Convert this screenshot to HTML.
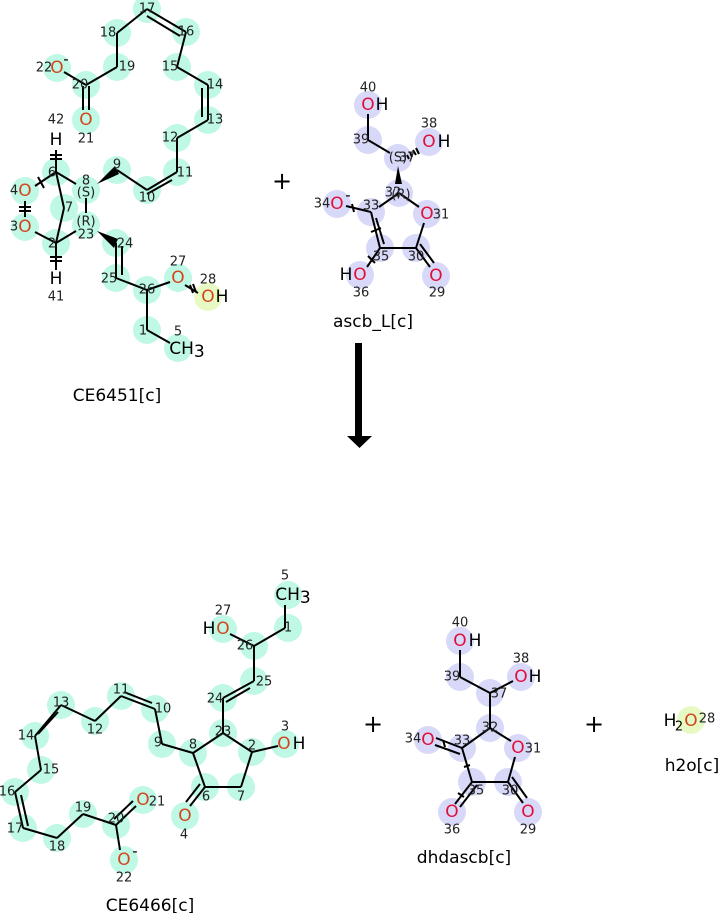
<!DOCTYPE html>
<html><head><meta charset="utf-8"><style>
html,body{margin:0;padding:0;background:#fff;}
svg{display:block;font-family:"DejaVu Sans","Liberation Sans",sans-serif;}
circle{r:14px;}
.n{font-size:13px;fill:#222;text-anchor:middle;dominant-baseline:central;}
.e{font-size:17px;text-anchor:middle;dominant-baseline:central;}
.o1{fill:#d2461e;} .o2{fill:#e0103a;} .k{fill:#000;}
.t{font-size:17px;fill:#000;text-anchor:middle;}
line{stroke:#000;stroke-width:2;}
</style></head><body>
<svg width="719" height="913" viewBox="0 0 719 913">
<g fill="#bff8e4">
<circle cx="147" cy="9" r="13"/><circle cx="186" cy="32" r="13"/><circle cx="117" cy="33" r="13"/><circle cx="117" cy="67" r="13"/>
<circle cx="177" cy="67" r="13"/><circle cx="208" cy="85" r="13"/><circle cx="208" cy="120" r="13"/><circle cx="177" cy="138" r="13"/>
<circle cx="177" cy="172" r="13"/><circle cx="147" cy="190" r="13"/><circle cx="117" cy="170" r="13"/><circle cx="86" cy="85" r="13"/>
<circle cx="57" cy="68" r="13"/><circle cx="86" cy="120" r="13"/><circle cx="86" cy="190" r="13"/><circle cx="86" cy="225" r="13"/>
<circle cx="56" cy="172" r="13"/><circle cx="64" cy="208" r="13"/><circle cx="25" cy="191" r="13"/><circle cx="25" cy="227" r="13"/>
<circle cx="56" cy="243" r="13"/><circle cx="116" cy="243" r="13"/><circle cx="116" cy="278" r="13"/><circle cx="147" cy="290" r="13"/>
<circle cx="178" cy="278" r="13"/><circle cx="147" cy="330" r="13"/><circle cx="178" cy="348" r="13"/>
</g>
<circle cx="208" cy="297" r="13" fill="#e8fac4"/>
<g>
<line x1="147" y1="9" x2="186" y2="32"/><line x1="147" y1="16" x2="180" y2="36"/>
<line x1="147" y1="9" x2="117" y2="33"/><line x1="117" y1="33" x2="117" y2="67"/><line x1="117" y1="67" x2="86" y2="85"/>
<line x1="86" y1="85" x2="64" y2="72"/><line x1="83" y1="86" x2="83" y2="110"/><line x1="89" y1="86" x2="89" y2="110"/>
<line x1="186" y1="32" x2="177" y2="67"/><line x1="177" y1="67" x2="208" y2="85"/>
<line x1="208" y1="85" x2="208" y2="120"/><line x1="202" y1="88" x2="202" y2="117"/>
<line x1="208" y1="120" x2="177" y2="138"/><line x1="177" y1="138" x2="177" y2="172"/>
<line x1="177" y1="172" x2="147" y2="190"/><line x1="172" y1="180" x2="147" y2="194"/>
<line x1="147" y1="190" x2="117" y2="170"/>
<line x1="56" y1="172" x2="76" y2="184"/><line x1="86" y1="198" x2="86" y2="213"/>
<line x1="56" y1="172" x2="64" y2="208"/><line x1="64" y1="208" x2="56" y2="243"/>
<line x1="56" y1="172" x2="35" y2="186"/><line x1="25" y1="201" x2="25" y2="217"/>
<line x1="35" y1="232" x2="56" y2="243"/><line x1="56" y1="243" x2="76" y2="231"/>
<line x1="56" y1="172" x2="56" y2="150"/><line x1="56" y1="243" x2="56" y2="270"/>
<line x1="116" y1="243" x2="116" y2="278"/><line x1="122" y1="246" x2="122" y2="275"/>
<line x1="116" y1="278" x2="147" y2="290"/><line x1="147" y1="290" x2="170" y2="282"/>
<line x1="185" y1="285" x2="198" y2="293"/><line x1="147" y1="290" x2="147" y2="330"/><line x1="147" y1="330" x2="170" y2="343"/>
<line x1="50" y1="155" x2="62" y2="155" stroke-width="1.5"/><line x1="50" y1="159" x2="62" y2="159" stroke-width="1.5"/>
<line x1="50" y1="257" x2="62" y2="257" stroke-width="1.5"/><line x1="50" y1="261" x2="62" y2="261" stroke-width="1.5"/>
<line x1="19" y1="207" x2="31" y2="207" stroke-width="1.5"/><line x1="19" y1="211" x2="31" y2="211" stroke-width="1.5"/>
<line x1="38" y1="177" x2="44" y2="188" stroke-width="1.5"/>
<line x1="190" y1="285" x2="193" y2="293" stroke-width="1.5"/><line x1="193" y1="284" x2="196" y2="292" stroke-width="1.5"/>
</g>
<polygon points="97,184 115,166 119,174" fill="#000"/>
<polygon points="97,231 114,248 118,239" fill="#000"/>
<text class="n" x="147" y="9">17</text><text class="n" x="186" y="32">16</text><text class="n" x="108" y="33">18</text><text class="n" x="127" y="67">19</text>
<text class="n" x="170" y="67">15</text><text class="n" x="215" y="85">14</text><text class="n" x="215" y="120">13</text><text class="n" x="170" y="138">12</text>
<text class="n" x="185" y="173">11</text><text class="n" x="147" y="198">10</text><text class="n" x="117" y="165">9</text>
<text class="n" x="80" y="85">20</text><text class="n" x="86" y="139">21</text><text class="n" x="56" y="120">42</text><text class="n" x="56" y="297">41</text>
<text class="n" x="86" y="181">8</text><text class="n" x="86" y="193" fill="#3a6a60">(S)</text>
<text class="n" x="86" y="222" fill="#3a6a60">(R)</text><text class="n" x="86" y="235">23</text>
<text class="n" x="52" y="173">6</text><text class="n" x="69" y="208">7</text><text class="n" x="52" y="244">2</text>
<text class="n" x="14" y="191">4</text><text class="n" x="14" y="227">3</text><text class="n" x="44" y="68">22</text>
<text class="n" x="125" y="244">24</text><text class="n" x="109" y="279">25</text><text class="n" x="147" y="290">26</text>
<text class="n" x="178" y="262">27</text><text class="n" x="208" y="280">28</text><text class="n" x="143" y="331">1</text><text class="n" x="178" y="332">5</text>
<text class="e o1" x="57" y="68">O</text><text class="e" x="66" y="59" style="font-size:15px">-</text>
<text class="e o1" x="86" y="120">O</text><text class="e o1" x="25" y="191">O</text><text class="e o1" x="25" y="227">O</text><text class="e o1" x="178" y="278">O</text>
<text class="e o1" x="208" y="297">O</text><text class="e k" x="222" y="297">H</text>
<text class="e k" x="56" y="140">H</text><text class="e k" x="56" y="279">H</text>
<text class="e k" x="187" y="349">CH<tspan dy="3">3</tspan></text>
<text class="t" x="117" y="401">CE6451[c]</text>
<text class="e k" x="282" y="181" style="font-size:24px">+</text>
<text class="e k" x="373" y="724" style="font-size:24px">+</text>
<text class="e k" x="594" y="724" style="font-size:24px">+</text>
<rect x="355" y="343" width="7" height="94" fill="#000"/>
<polygon points="347,436 372,436 359.5,448" fill="#000"/>
<g fill="#d8d8f8">
<circle cx="368" cy="105" r="13"/><circle cx="368" cy="140" r="13"/><circle cx="398" cy="158" r="13"/><circle cx="429" cy="142" r="13"/>
<circle cx="399" cy="193" r="13"/><circle cx="371" cy="212" r="13"/><circle cx="337" cy="204" r="13"/><circle cx="427" cy="214" r="13"/>
<circle cx="380" cy="248" r="13"/><circle cx="416" cy="248" r="13"/><circle cx="360" cy="275" r="13"/><circle cx="436" cy="276" r="13"/>
</g>
<g>
<line x1="368" y1="114" x2="368" y2="140"/><line x1="368" y1="140" x2="390" y2="153"/>
<line x1="399" y1="193" x2="379" y2="207"/><line x1="399" y1="193" x2="419" y2="207"/>
<line x1="371" y1="212" x2="346" y2="206"/><line x1="371" y1="212" x2="380" y2="248"/><line x1="376" y1="218" x2="384" y2="244"/>
<line x1="380" y1="248" x2="416" y2="248"/><line x1="416" y1="248" x2="424" y2="223"/>
<line x1="416" y1="248" x2="430" y2="267"/><line x1="420" y1="244" x2="434" y2="263"/>
<line x1="380" y1="248" x2="367" y2="267"/>
<line x1="352" y1="204" x2="354" y2="212" stroke-width="1.5"/><line x1="371" y1="232" x2="381" y2="228" stroke-width="1.5"/><line x1="368" y1="256" x2="375" y2="263" stroke-width="1.5"/>
</g>
<polygon points="398,166 395,184 402,184" fill="#000"/>
<g stroke="#000" stroke-width="1.5"><line x1="407" y1="155" x2="409" y2="159"/><line x1="410" y1="152" x2="412" y2="157"/><line x1="413" y1="150" x2="416" y2="155"/><line x1="416" y1="148" x2="419" y2="154"/></g>
<text class="n" x="368" y="88">40</text><text class="n" x="361" y="140">39</text><text class="n" x="398" y="158" fill="#3a3a70">(S)</text><text class="n" x="407" y="158">37</text>
<text class="n" x="429" y="124">38</text><text class="n" x="393" y="193">32</text><text class="n" x="401" y="195" fill="#3a3a70">(R)</text>
<text class="n" x="371" y="206">33</text><text class="n" x="322" y="204">34</text><text class="n" x="441" y="215">31</text>
<text class="n" x="381" y="257">35</text><text class="n" x="416" y="257">30</text><text class="n" x="361" y="293">36</text><text class="n" x="437" y="293">29</text>
<text class="e o2" x="368" y="105">O</text><text class="e k" x="382" y="105">H</text>
<text class="e o2" x="429" y="142">O</text><text class="e k" x="444" y="142">H</text>
<text class="e o2" x="337" y="204">O</text><text class="e" x="348" y="195" style="font-size:15px">-</text>
<text class="e o2" x="427" y="214">O</text><text class="e o2" x="360" y="275">O</text><text class="e k" x="346" y="275">H</text>
<text class="e o2" x="436" y="276">O</text>
<text class="t" x="373" y="327">ascb_L[c]</text>
<g fill="#bff8e4">
<circle cx="288" cy="595" r="13"/><circle cx="288" cy="628" r="13"/><circle cx="254" cy="646" r="13"/><circle cx="223" cy="629" r="13"/>
<circle cx="254" cy="681" r="13"/><circle cx="223" cy="698" r="13"/><circle cx="223" cy="733" r="13"/><circle cx="252" cy="752" r="13"/>
<circle cx="285" cy="744" r="13"/><circle cx="241" cy="787" r="13"/><circle cx="205" cy="787" r="13"/><circle cx="185" cy="816" r="13"/>
<circle cx="193" cy="753" r="13"/><circle cx="162" cy="744" r="13"/><circle cx="155" cy="709" r="13"/><circle cx="121" cy="696" r="13"/>
<circle cx="95" cy="721" r="13"/><circle cx="61" cy="705" r="13"/><circle cx="35" cy="736" r="13"/><circle cx="41" cy="770" r="13"/>
<circle cx="15" cy="792" r="13"/><circle cx="23" cy="828" r="13"/><circle cx="57" cy="838" r="13"/><circle cx="83" cy="814" r="13"/>
<circle cx="116" cy="825" r="13"/><circle cx="143" cy="800" r="13"/><circle cx="124" cy="860" r="13"/>
</g>
<g>
<line x1="285" y1="605" x2="285" y2="628"/><line x1="285" y1="628" x2="254" y2="646"/><line x1="254" y1="646" x2="230" y2="634"/>
<line x1="254" y1="646" x2="254" y2="681"/><line x1="254" y1="681" x2="223" y2="698"/><line x1="250" y1="688" x2="226" y2="702"/>
<line x1="223" y1="698" x2="223" y2="733"/><line x1="223" y1="733" x2="252" y2="752"/><line x1="252" y1="752" x2="278" y2="746"/>
<line x1="252" y1="752" x2="241" y2="787"/><line x1="241" y1="787" x2="205" y2="787"/><line x1="205" y1="787" x2="193" y2="753"/>
<line x1="193" y1="753" x2="223" y2="733"/><line x1="205" y1="787" x2="190" y2="806"/><line x1="200" y1="784" x2="186" y2="802"/>
<line x1="193" y1="753" x2="162" y2="744"/><line x1="162" y1="744" x2="155" y2="709"/>
<line x1="155" y1="709" x2="121" y2="696"/><line x1="152" y1="703" x2="124" y2="692"/>
<line x1="121" y1="696" x2="95" y2="721"/><line x1="95" y1="721" x2="61" y2="705"/>
<line x1="61" y1="705" x2="35" y2="736"/><line x1="58" y1="712" x2="38" y2="734"/>
<line x1="35" y1="736" x2="41" y2="770"/><line x1="41" y1="770" x2="15" y2="792"/>
<line x1="15" y1="792" x2="23" y2="828"/><line x1="21" y1="795" x2="28" y2="826"/>
<line x1="23" y1="828" x2="57" y2="838"/><line x1="57" y1="838" x2="83" y2="814"/><line x1="83" y1="814" x2="116" y2="825"/>
<line x1="116" y1="825" x2="136" y2="806"/><line x1="114" y1="819" x2="133" y2="801"/><line x1="116" y1="825" x2="120" y2="850"/>
</g>
<text class="n" x="285" y="576">5</text><text class="n" x="288" y="628">1</text><text class="n" x="245" y="646">26</text><text class="n" x="223" y="611">27</text>
<text class="n" x="264" y="682">25</text><text class="n" x="215" y="699">24</text><text class="n" x="223" y="732">23</text><text class="n" x="252" y="746">2</text>
<text class="n" x="285" y="727">3</text><text class="n" x="241" y="797">7</text><text class="n" x="206" y="797">6</text><text class="n" x="184" y="835">4</text>
<text class="n" x="193" y="745">8</text><text class="n" x="158" y="743">9</text><text class="n" x="163" y="709">10</text><text class="n" x="121" y="690">11</text>
<text class="n" x="95" y="730">12</text><text class="n" x="61" y="703">13</text><text class="n" x="26" y="736">14</text><text class="n" x="51" y="770">15</text>
<text class="n" x="7" y="792">16</text><text class="n" x="15" y="829">17</text><text class="n" x="57" y="847">18</text><text class="n" x="83" y="808">19</text>
<text class="n" x="116" y="819">20</text><text class="n" x="157" y="802">21</text><text class="n" x="124" y="878">22</text>
<text class="e k" x="293" y="595">CH<tspan dy="3">3</tspan></text>
<text class="e o1" x="223" y="629">O</text><text class="e k" x="209" y="629">H</text>
<text class="e o1" x="284" y="744">O</text><text class="e k" x="299" y="744">H</text>
<text class="e o1" x="185" y="816">O</text><text class="e o1" x="143" y="800">O</text><text class="e o1" x="124" y="860">O</text>
<text class="e" x="135" y="851" style="font-size:15px">-</text>
<text class="t" x="150" y="911">CE6466[c]</text>
<g fill="#d8d8f8">
<circle cx="460" cy="641" r="13"/><circle cx="460" cy="677" r="13"/><circle cx="490" cy="693" r="13"/><circle cx="521" cy="677" r="13"/>
<circle cx="490" cy="728" r="13"/><circle cx="462" cy="748" r="13"/><circle cx="428" cy="740" r="13"/><circle cx="518" cy="748" r="13"/>
<circle cx="472" cy="782" r="13"/><circle cx="508" cy="782" r="13"/><circle cx="452" cy="812" r="13"/><circle cx="528" cy="812" r="13"/>
</g>
<g>
<line x1="460" y1="650" x2="460" y2="677"/><line x1="460" y1="677" x2="490" y2="693"/><line x1="490" y1="693" x2="513" y2="681"/>
<line x1="490" y1="693" x2="490" y2="728"/><line x1="490" y1="728" x2="462" y2="748"/><line x1="490" y1="728" x2="511" y2="741"/>
<line x1="462" y1="748" x2="436" y2="738"/><line x1="460" y1="754" x2="435" y2="745"/>
<line x1="462" y1="748" x2="472" y2="782"/><line x1="472" y1="782" x2="508" y2="782"/><line x1="508" y1="782" x2="515" y2="757"/>
<line x1="472" y1="782" x2="455" y2="804"/><line x1="477" y1="785" x2="460" y2="807"/>
<line x1="508" y1="782" x2="523" y2="803"/><line x1="512" y1="777" x2="527" y2="798"/>
<line x1="443" y1="740" x2="445" y2="747" stroke-width="1.5"/><line x1="464" y1="767" x2="470" y2="765" stroke-width="1.5"/><line x1="458" y1="793" x2="464" y2="797" stroke-width="1.5"/>
</g>
<text class="n" x="460" y="623">40</text><text class="n" x="452" y="677">39</text><text class="n" x="499" y="694">37</text><text class="n" x="521" y="659">38</text>
<text class="n" x="490" y="728">32</text><text class="n" x="462" y="741">33</text><text class="n" x="413" y="739">34</text><text class="n" x="533" y="749">31</text>
<text class="n" x="476" y="791">35</text><text class="n" x="510" y="791">30</text><text class="n" x="452" y="830">36</text><text class="n" x="528" y="830">29</text>
<text class="e o2" x="460" y="641">O</text><text class="e k" x="475" y="641">H</text>
<text class="e o2" x="521" y="677">O</text><text class="e k" x="535" y="677">H</text>
<text class="e o2" x="428" y="740">O</text><text class="e o2" x="518" y="748">O</text>
<text class="e o2" x="452" y="812">O</text><text class="e o2" x="528" y="812">O</text>
<text class="t" x="464" y="863">dhdascb[c]</text>
<circle cx="691" cy="720" r="13" fill="#e8fac4"/>
<text class="e k" x="670" y="721">H</text><text class="n k" x="679" y="727">2</text>
<text class="e o1" x="691" y="721">O</text><text class="n" x="707" y="719">28</text>
<text class="t" x="692" y="771">h2o[c]</text>
</svg>
</body></html>
